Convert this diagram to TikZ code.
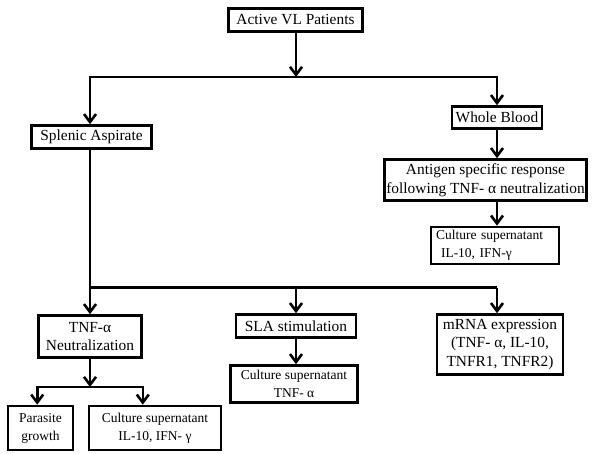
\documentclass[tikz,border=0pt]{standalone}
\usepackage{fontspec}
\setmainfont{Liberation Serif}
\usetikzlibrary{arrows.meta}
\colorlet{flowLine}{black}
\tikzstyle{flowBox}=[draw=flowLine,line width=2.6pt,inner sep=2pt,align=center,font=\fontsize{15.4}{18.5}\selectfont]
\tikzstyle{flowSmall}=[flowBox,font=\fontsize{13.5}{18}\selectfont]
\tikzstyle{flowLink}=[draw=flowLine,line width=2.6pt]
\tikzstyle{flowArrow}=[flowLink,-{Straight Barb[length=8pt,width=12pt]}]

\begin{document}
\begin{tikzpicture}[x=1pt,y=-1pt]
\useasboundingbox (0,0) rectangle (604,453);
        % top level
        \node[flowBox,minimum width=134pt,minimum height=23pt] (patients)
        at (295.5,20)
        {Active VL Patients};
        \node[flowBox,minimum width=120pt,minimum height=23pt] (splenic)
        at (91.5,137)
        {Splenic Aspirate};
        \node[flowBox,minimum width=90pt,minimum height=22pt] (blood)
        at (497,117.5)
        {Whole Blood};
        \node[flowBox,minimum width=202pt,minimum height=41pt] (antigen)
        at (485.5,180)
        {Antigen specific response\\following TNF- α neutralization};
        \node[flowSmall,text width=118pt,inner xsep=5pt,minimum height=37pt,align=left] (cultureBlood)
        at (495,245.5)
        {Culture supernatant\\\hspace*{5pt}IL-10, IFN-γ};
        % lower level
        \node[flowBox,minimum width=103pt,minimum height=42pt] (neutral)
        at (90,336.5)
        {TNF-α\\Neutralization};
        \node[flowBox,minimum width=120pt,minimum height=23pt] (sla)
        at (296,326)
        {SLA stimulation};
        \node[flowBox,minimum width=126pt,minimum height=60pt] (mrna)
        at (500,344.5)
        {mRNA expression\\(TNF- α, IL-10,\\TNFR1, TNFR2)};
        \node[flowSmall,minimum width=127pt,minimum height=37pt] (cultureSla)
        at (294,384)
        {Culture supernatant\\TNF- α};
        \node[flowSmall,minimum width=65pt,minimum height=44pt] (parasite)
        at (40.5,428)
        {Parasite\\growth};
        \node[flowSmall,minimum width=132pt,minimum height=44pt] (cultureNeut)
        at (155,428)
        {Culture supernatant\\IL-10, IFN- γ};
        % junctions
        \coordinate (topSplit) at (296,77);
        \coordinate (lowLeft) at (90,287.5);
        \coordinate (lowMid) at (296,287.5);
        \coordinate (lowRight) at (497,287.5);
        \coordinate (neutSplit) at (90,387);
        % connectors
        \draw[flowArrow] (patients.south -| topSplit) -- (topSplit);
        \draw[flowArrow] (topSplit) -| (splenic.north -| lowLeft);
        \draw[flowArrow] (topSplit) -| (blood);
        \draw[flowArrow] (blood) -- (blood |- antigen.north);
        \draw[flowArrow] (blood |- antigen.south) -- (blood |- cultureBlood.north);
        \draw[flowLink] (splenic.south -| lowLeft) -- (lowLeft) -- (lowRight);
        \draw[flowArrow] (lowLeft) -- (lowLeft |- neutral.north);
        \draw[flowArrow] (lowMid) -- (lowMid |- sla.north);
        \draw[flowArrow] (lowRight) -- (lowRight |- mrna.north);
        \draw[flowArrow] (sla) -- (sla |- cultureSla.north);
        \draw[flowArrow] (neutral) -- (neutSplit);
        \draw[flowArrow] (neutSplit) -| (parasite.north -| neutral.west);
        \draw[flowArrow] (neutSplit) -| (cultureNeut.north -| neutral.east);
\end{tikzpicture}
\end{document}
